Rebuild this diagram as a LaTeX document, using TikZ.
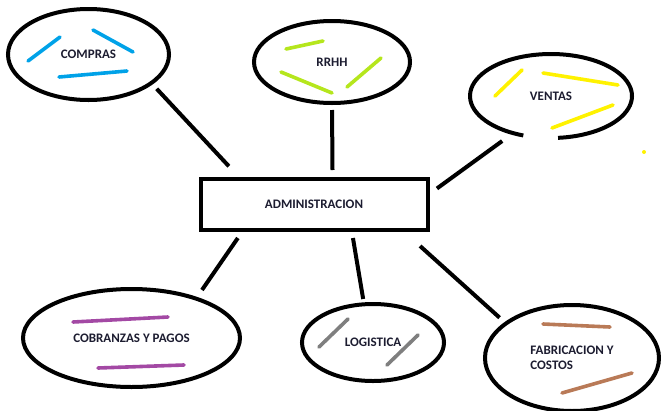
\documentclass[tikz,border=0pt]{standalone}
\usepackage{fontspec}
\setmainfont{Carlito}
\usetikzlibrary{shapes.geometric}
\definecolor{ink}{HTML}{1C1C30}
\definecolor{paintblue}{HTML}{00A2E8}
\definecolor{paintlime}{HTML}{B5E61D}
\definecolor{paintyellow}{HTML}{FFF200}
\definecolor{paintpurple}{HTML}{A349A4}
\definecolor{paintgray}{HTML}{7F7F7F}
\definecolor{paintbrown}{HTML}{B97A57}
\begin{document}
\begin{tikzpicture}[x=1pt, y=-1pt, line width=4pt,
        area/.style={ellipse, draw, inner sep=0pt, text=ink,
            font=\bfseries\fontsize{13}{15}\selectfont},
        box/.style={rectangle, draw, text=ink, minimum width=227pt, minimum height=51pt,
            font=\bfseries\fontsize{13}{15}\selectfont},
        scribble/.style={line width=3.6pt, line cap=round}]
        \useasboundingbox (0,0) rectangle (661,410);

        % Nodes (areas round the centre)
        \node[box] (admin) at (314,204) {ADMINISTRACION};
        \node[area, minimum width=161pt, minimum height=91pt] (compras) at (88.5,54.5) {COMPRAS};
        \node[area, minimum width=156pt, minimum height=82pt] (rrhh) at (332,62) {RRHH};
        \node[area, draw=none, outer sep=2pt, minimum width=162pt, minimum height=84pt] (ventas) at (551,96) {VENTAS};
        \node[area, minimum width=217pt, minimum height=98pt] (cobranzas) at (131.5,338) {COBRANZAS Y PAGOS};
        \node[area, minimum width=142pt, minimum height=77pt] (logistica) at (373,342.5) {LOGISTICA};
        \node[area, align=left, minimum width=174pt, minimum height=106pt] (fabricacion) at (572,358) {FABRICACION Y\\COSTOS};

        % VENTAS is left open at the bottom
        \draw[shift={(551,96)}] plot[domain=110:445, samples=80, smooth] ({81*cos(\x)}, {42*sin(\x)});

        % Edges (areas to the centre)
        \draw[shorten <=6pt, shorten >=14pt] (compras.-25) -- (admin.160.4);
        \draw[shorten <=5pt, shorten >=6.5pt] (rrhh.south) -- (admin.56.8);
        \draw[shorten <=11pt, shorten >=9.2pt] (ventas.224.1) -- (admin.5.8);
        \draw[shorten <=8.5pt, shorten >=7.9pt] (cobranzas.32) -- (admin.201);
        \draw[shorten <=3.4pt, shorten >=6.6pt] (logistica.103.2) -- (admin.-36.8);
        \draw[shorten <=6.7pt, shorten >=21.7pt] (fabricacion.152.4) -- (admin.-17.2);

        % Scribbles
        \draw[scribble, paintblue] (28,61) -- (60,37);
        \draw[scribble, paintblue] (93,30) -- (133,52);
        \draw[scribble, paintblue] (59,77) -- (127,71);
        \draw[scribble, paintlime] (286,49) -- (323,41);
        \draw[scribble, paintlime] (281,72) -- (332,93);
        \draw[scribble, paintlime] (347,87) -- (381,58);
        \draw[scribble, paintyellow] (495,96) -- (522,70);
        \draw[scribble, paintyellow] (543,73) -- (618,85);
        \draw[scribble, paintyellow] (552,128) -- (613,105);
        \fill[paintyellow] (644,152) circle (2);
        \draw[scribble, paintpurple] (73,322) -- (168,317);
        \draw[scribble, paintpurple] (98,368) -- (184,365);
        \draw[scribble, paintgray] (319,347) -- (348,319);
        \draw[scribble, paintgray] (387,365) -- (418,335);
        \draw[scribble, paintbrown] (543,324) -- (610,327);
        \draw[scribble, paintbrown] (562,393) -- (632,373);
    \end{tikzpicture}
\end{document}
